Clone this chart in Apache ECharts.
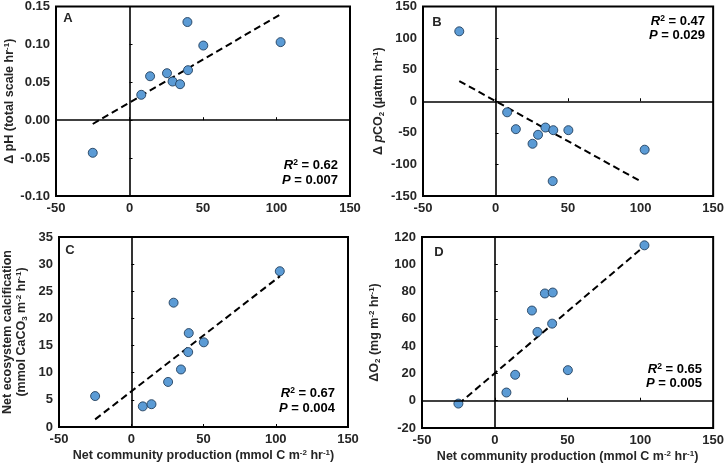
<!DOCTYPE html>
<html><head><meta charset="utf-8">
<script src="https://cdn.jsdelivr.net/npm/echarts@6/dist/echarts.min.js"></script>
<style>html,body{margin:0;padding:0;background:#fff}#c{width:727px;height:468px}</style>
</head><body><div id="c"></div>
<script>
// Net community production (x, shared by all panels)
const ncp = [-25, 8, 14, 25.5, 29.3, 34.4, 39.4, 39.8, 50.2, 102.8];
const deltaPH = [-0.043, 0.0335, 0.058, 0.062, 0.051, 0.0475, 0.1295, 0.066, 0.0985, 0.103];
const deltaPCO2 = [110.7, -17.5, -44.2, -67.3, -53.1, -41.6, -126.4, -45.8, -45.8, -76.7];
const nec = [5.7, 3.8, 4.2, 8.3, 22.9, 10.6, 13.8, 17.3, 15.6, 28.7];
const deltaO2 = [-2.1, 6.0, 19.0, 66.1, 50.4, 78.6, 56.5, 79.3, 22.4, 113.9];
// trend line end points
const trendX = [-25, 103];
const trendXB = [-25, 101];
const trendA = [-0.005, 0.140];
const trendB = [32, -128];
const trendC = [1.4, 27.8];
const trendD = [-2.5, 113.5];
const stats = [['0.62','0.007'],['0.47','0.029'],['0.67','0.004'],['0.65','0.005']];
const panelLabels = ['A','B','C','D'];
const xTicks = {min:-50, max:150, interval:50};
const yAxesSpec = [
  {min:-0.10, max:0.15, interval:0.05, dec:2},
  {min:-150, max:150, interval:50, dec:0},
  {min:0, max:35, interval:5, dec:0},
  {min:-20, max:120, interval:20, dec:0}
];

const FONT = '"Liberation Sans", Arial, sans-serif';
const TXT = '#262626';
const rich = {
  sup:{fontSize:8, fontWeight:'bold', fontFamily:FONT, color:TXT, verticalAlign:'top', lineHeight:14},
  sub:{fontSize:8, fontWeight:'bold', fontFamily:FONT, color:TXT, verticalAlign:'bottom', lineHeight:14},
  i:{fontSize:12.5, fontWeight:'bold', fontStyle:'italic', fontFamily:FONT, color:TXT, lineHeight:14},
  n:{fontSize:12.5, fontWeight:'bold', fontFamily:FONT, color:TXT, lineHeight:14}
};
const richStat = {
  sup:{fontSize:8.5, fontWeight:'bold', fontFamily:FONT, color:TXT, verticalAlign:'top', lineHeight:14},
  i:{fontSize:13, fontWeight:'bold', fontStyle:'italic', fontFamily:FONT, color:TXT, lineHeight:14},
  n:{fontSize:13, fontWeight:'bold', fontFamily:FONT, color:TXT, lineHeight:14}
};

const grids = [
  {left:56, top:5, width:294, height:191},
  {left:423, top:5, width:295, height:191},
  {left:55, top:237, width:293, height:190},
  {left:422, top:237, width:295, height:191}
];
const yNames = [
  '{n|Δ pH (total scale hr}{sup|-1}{n|)}',
  '{n|Δ }{i|p}{n|CO}{sub|2}{n| (µatm hr}{sup|-1}{n|)}',
  '{n|Net ecosystem calcification}\n{n|(mmol CaCO}{sub|3}{n| m}{sup|-2}{n| hr}{sup|-1}{n|)}',
  '{n|ΔO}{sub|2}{n| (mg m}{sup|-2}{n| hr}{sup|-1}{n|)}'
];
const yGaps = [36, 37, 30, 40];
const xName = '{n|Net community production (mmol C m}{sup|-2}{n| hr}{sup|-1}{n|)}';
const ys = [deltaPH, deltaPCO2, nec, deltaO2];
const trends = [trendA, trendB, trendC, trendD];
const trendXs = [trendX, trendXB, trendX, trendX];

const option = {
  animation:false,
  grid: grids.map(g => Object.assign({show:true, borderColor:'#000', borderWidth:2, backgroundColor:'transparent'}, g)),
  xAxis: grids.map((g,i) => ({
    gridIndex:i, type:'value', min:xTicks.min, max:xTicks.max, interval:xTicks.interval,
    splitLine:{show:false}, axisLine:{show:false},
    axisTick:{show:true, inside:true, length:3, lineStyle:{color:'#000', width:1}},
    axisLabel:{margin:6, fontSize:13, fontWeight:'bold', fontFamily:FONT, color:TXT},
    name: i>=2 ? xName : '', nameLocation:'middle', nameGap:22,
    nameTextStyle:{rich:rich}
  })),
  yAxis: yAxesSpec.map((s,i) => ({
    gridIndex:i, type:'value', min:s.min, max:s.max, interval:s.interval,
    splitLine:{show:false}, axisLine:{show:false},
    axisTick:{show:true, inside:true, length:3, lineStyle:{color:'#000', width:1}},
    axisLabel:{margin:6, fontSize:13, fontWeight:'bold', fontFamily:FONT, color:TXT,
      formatter: v => v.toFixed(s.dec)},
    name: yNames[i], nameLocation:'middle', nameGap:yGaps[i], nameRotate:90,
    nameTextStyle:{rich:rich, lineHeight:15}
  })),
  series: []
};
ys.forEach((yv,i) => {
  option.series.push({
    type:'line', xAxisIndex:i, yAxisIndex:i, symbol:'none', silent:true,
    data: trendXs[i].map((x,k)=>[x, trends[i][k]]),
    lineStyle:{color:'#000', width:2, type:[7,4]}, z:3
  });
  option.series.push({
    type:'scatter', xAxisIndex:i, yAxisIndex:i, symbol:'circle', symbolSize:9,
    data: ncp.map((x,k)=>[x, yv[k]]),
    itemStyle:{color:'#5B9BD5', borderColor:'#23405E', borderWidth:0.9, opacity:1}, z:4,
    markLine:{silent:true, symbol:'none', label:{show:false}, animation:false,
      lineStyle:{color:'#000', width:1.6, type:'solid'},
      data:[{xAxis:0},{yAxis:0}]}
  });
});
const statPos = [[338,165,180],[705,21,35],[335,393,408],[702,369,383]];
const letterPos = [[68,18],[437,22],[70,250],[439,252]];
option.graphic = [];
stats.forEach((s,i) => {
  const p = statPos[i];
  option.graphic.push({type:'text', x:p[0], y:p[1], z:10, style:{text:'{i|R}{sup|2}{n| = '+s[0]+'}', rich:richStat, align:'right', verticalAlign:'middle'}});
  option.graphic.push({type:'text', x:p[0], y:p[2], z:10, style:{text:'{i|P}{n| = '+s[1]+'}', rich:richStat, align:'right', verticalAlign:'middle'}});
  option.graphic.push({type:'text', x:letterPos[i][0], y:letterPos[i][1], z:10, style:{text:panelLabels[i], font:'bold 13px '+FONT, fill:TXT, align:'center', verticalAlign:'middle'}});
});
const chart = echarts.init(document.getElementById('c'), null, {renderer:'canvas'});
chart.setOption(option);
</script>
</body></html>
